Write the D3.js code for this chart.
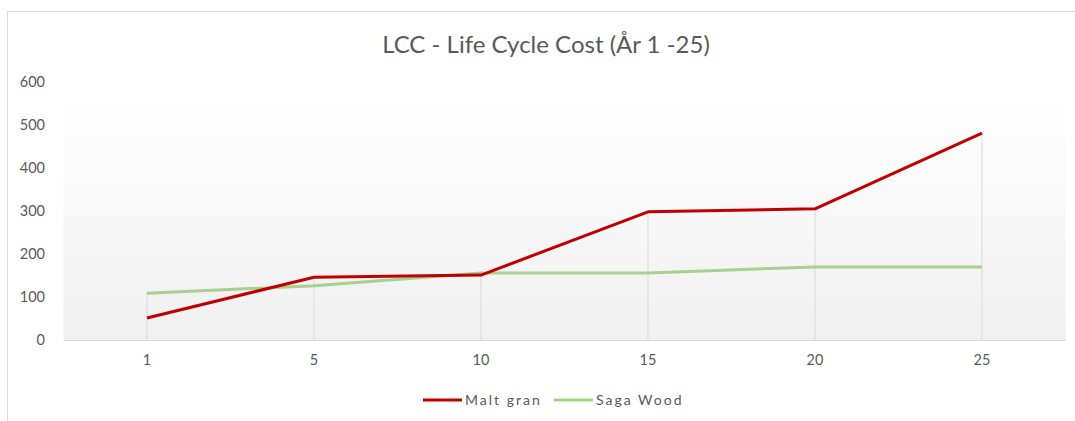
<!DOCTYPE html>
<html>
<head>
<meta charset="utf-8">
<script src="https://cdn.jsdelivr.net/npm/d3@7"></script>
<style>
  body { margin: 0; background: #fff; }
  svg { display: block; font-family: Lato, "Open Sans", sans-serif; }
</style>
</head>
<body>
<svg id="chart" width="1075" height="421"></svg>
<script>
const years = ["1", "5", "10", "15", "20", "25"];
const maltGran = [51, 146, 151, 298, 305, 481];
const sagaWood = [109, 126, 156, 156, 170, 170];
const yTicks = [0, 100, 200, 300, 400, 500, 600];

const series = [
  { name: "Malt gran", values: maltGran, color: "#c00000" },
  { name: "Saga Wood", values: sagaWood, color: "#a9d18e" }
];

const svg = d3.select("#chart"),
  width = +svg.attr("width"),
  height = +svg.attr("height");

const margin = { left: 63.5, right: 9.5, top: 82, bottom: 81 };
const x = d3.scaleBand().domain(years).range([margin.left, width - margin.right]);
const y = d3.scaleLinear().domain([0, 600]).range([height - margin.bottom, margin.top]);

// chart border
svg.append("rect")
  .attr("x", 7.5).attr("y", 11.5)
  .attr("width", width + 10).attr("height", height + 10)
  .attr("fill", "#fff").attr("stroke", "#d9d9d9");

// plot area gradient
const grad = svg.append("defs").append("linearGradient")
  .attr("id", "bg").attr("x1", 0).attr("y1", 0).attr("x2", 0).attr("y2", 1);
grad.append("stop").attr("offset", "0%").attr("stop-color", "#ffffff");
grad.append("stop").attr("offset", "100%").attr("stop-color", "#f0f0f0");

svg.append("rect")
  .attr("x", margin.left).attr("y", 96)
  .attr("width", x.range()[1] - margin.left)
  .attr("height", y(0) - 96)
  .attr("fill", "url(#bg)");

svg.append("text")
  .attr("x", 546).attr("y", 53)
  .attr("text-anchor", "middle")
  .attr("font-size", 24)
  .attr("fill", "#595959")
  .text("LCC - Life Cycle Cost (År 1 -25)");

const cx = d => x(d) + x.bandwidth() / 2;

// drop lines
svg.append("g").selectAll("line")
  .data(years)
  .join("line")
  .attr("x1", d => cx(d)).attr("x2", d => cx(d))
  .attr("y1", (d, i) => y(Math.max(maltGran[i], sagaWood[i])))
  .attr("y2", y(0))
  .attr("stroke", "#d9d9d9").attr("stroke-width", 1);

// axes
const xAxis = svg.append("g")
  .attr("transform", `translate(0,${y(0)})`)
  .call(d3.axisBottom(x).tickSize(0).tickPadding(15));
xAxis.select(".domain").attr("stroke", "#d9d9d9");
xAxis.selectAll("text").attr("font-size", 14.5).attr("fill", "#595959")
  .attr("font-family", "Lato, 'Open Sans', sans-serif");

const yAxis = svg.append("g")
  .attr("transform", `translate(45,0)`)
  .call(d3.axisLeft(y).tickValues(yTicks).tickSize(0).tickPadding(0));
yAxis.select(".domain").remove();
yAxis.selectAll("text").attr("font-size", 14.5).attr("fill", "#595959")
  .attr("font-family", "Lato, 'Open Sans', sans-serif");

// lines
const line = d3.line().x((d, i) => cx(years[i])).y(d => y(d));
svg.append("g").selectAll("path")
  .data(series.slice().reverse())
  .join("path")
  .attr("d", d => line(d.values))
  .attr("fill", "none")
  .attr("stroke", d => d.color)
  .attr("stroke-width", 3)
  .attr("stroke-linejoin", "round");

// legend
const legendX = [423, 554];
const legend = svg.append("g").selectAll("g")
  .data(series)
  .join("g")
  .attr("transform", (d, i) => `translate(${legendX[i]},400)`);
legend.append("line")
  .attr("x1", 0).attr("x2", 39)
  .attr("stroke", d => d.color).attr("stroke-width", 3);
legend.append("text")
  .attr("x", 42).attr("dy", "0.35em")
  .attr("font-size", 14).attr("fill", "#595959")
  .attr("letter-spacing", 2)
  .text(d => d.name);
</script>
</body>
</html>
